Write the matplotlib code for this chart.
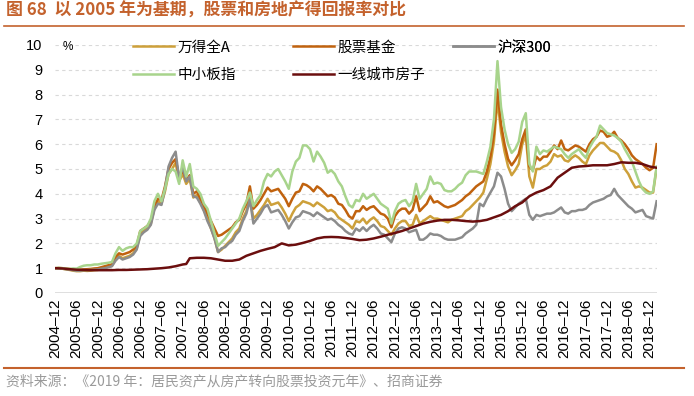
import matplotlib
matplotlib.use("Agg")
import matplotlib.pyplot as plt
import numpy as np
import pandas as pd

plt.rcParams['font.family'] = ['Noto Sans CJK SC', 'DejaVu Sans']

# monthly data 2004-12 .. 2019-02 (2005 base = 1)
months = pd.period_range('2004-12', '2019-02', freq='M').strftime('%Y-%m').tolist()

sme_index = [  # 中小板指
    1.00, 1.01, 1.00, 0.98, 0.97, 0.99, 0.98, 1.05, 1.10, 1.12, 1.12, 1.15, 1.15, 1.18, 1.20, 1.22, 1.25,
    1.60, 1.85, 1.70, 1.80, 1.85, 1.85, 2.00, 2.50,
    2.60, 2.70, 3.00, 3.70, 4.00, 3.70, 4.20, 4.80, 5.00, 4.90,
    4.40, 5.35, 4.70, 5.20, 4.30, 4.20, 4.00, 3.60, 3.40, 2.90, 2.40, 1.90,
    2.05, 2.20, 2.40, 2.60, 2.80, 3.00, 3.40, 3.70, 4.05, 3.50, 3.75, 3.95,
    4.50, 4.80, 4.70, 4.90, 5.00, 4.75, 4.50, 4.20, 4.90, 5.30, 5.45, 5.95,
    5.95, 5.80, 5.30, 5.70, 5.50, 5.25, 4.85, 4.95, 4.80, 4.50, 4.30, 3.90,
    3.55, 3.45, 3.75, 3.70, 4.00, 3.80, 3.90, 4.00, 3.80, 3.60, 3.50, 3.40,
    2.80, 3.30, 3.60, 3.70, 3.75, 3.50, 3.70, 4.40, 3.80, 4.00, 4.20, 4.70,
    4.40, 4.45, 4.40, 4.15, 4.10, 4.10, 4.20, 4.35, 4.45, 4.75, 4.90, 4.90,
    4.90, 4.85, 4.80, 5.30, 5.90, 7.00, 9.35, 7.50, 6.60, 6.00, 5.65, 5.80,
    6.10, 6.90, 7.25, 5.20, 4.90, 5.90, 5.60, 5.75, 5.70, 5.80, 5.90, 5.85,
    5.80, 5.60, 5.45, 5.60, 5.70, 5.80, 5.60, 5.45, 5.85, 6.10, 6.30, 6.75,
    6.60, 6.45, 6.40, 6.35, 6.25, 6.10, 5.80, 5.55, 5.30, 4.90, 4.50, 4.20,
    4.05, 4.00, 4.10, 5.10,
]

stock_fund = [  # 股票基金
    1.00, 1.01, 1.00, 0.98, 0.97, 0.95, 0.93, 0.94, 0.95, 0.96, 0.97, 0.99, 1.00, 1.04, 1.08, 1.12, 1.15,
    1.45, 1.60, 1.55, 1.60, 1.65, 1.75, 1.90, 2.50,
    2.60, 2.70, 2.90, 3.50, 3.80, 3.75, 4.30, 5.00, 5.25, 5.40,
    4.70, 4.95, 4.55, 4.75, 4.00, 4.10, 3.80, 3.50, 3.20, 2.90, 2.60, 2.30,
    2.35, 2.45, 2.55, 2.65, 2.85, 2.95, 3.30, 3.60, 4.30, 3.40, 3.55, 3.75,
    4.00, 4.25, 4.10, 4.15, 4.20, 4.00, 3.80, 3.50, 3.80, 4.05, 4.10, 4.40,
    4.35, 4.25, 4.10, 4.30, 4.20, 4.05, 3.90, 3.95, 3.85, 3.60, 3.55, 3.35,
    3.10, 3.00, 3.30, 3.30, 3.50, 3.35, 3.45, 3.50, 3.35, 3.20, 3.15, 3.00,
    2.65, 3.10, 3.30, 3.40, 3.40, 3.20, 3.35, 3.90, 3.30, 3.45, 3.60, 3.90,
    3.65, 3.70, 3.60, 3.50, 3.45, 3.50, 3.55, 3.65, 3.75, 3.90, 4.00, 4.15,
    4.30, 4.40, 4.50, 4.90, 5.50, 6.40, 8.20, 6.80, 6.00, 5.40, 5.15, 5.35,
    5.60, 6.20, 6.60, 5.10, 4.95, 5.50, 5.35, 5.50, 5.50, 5.70, 5.95, 5.80,
    6.15, 5.80, 5.75, 5.85, 5.95, 5.90, 5.80, 5.70, 6.00, 6.20, 6.30, 6.55,
    6.50, 6.30, 6.35, 6.50, 6.25, 6.15, 6.00, 5.80, 5.55, 5.40, 5.30, 5.20,
    5.05, 4.95, 5.05, 6.00,
]

wind_all_a = [  # 万得全A
    1.00, 1.00, 0.98, 0.95, 0.93, 0.90, 0.88, 0.88, 0.90, 0.89, 0.90, 0.92, 0.93, 0.97, 1.00, 1.05, 1.10,
    1.35, 1.50, 1.40, 1.45, 1.50, 1.60, 1.80, 2.35,
    2.50, 2.60, 2.80, 3.40, 3.70, 3.60, 4.10, 4.80, 5.00, 5.25,
    4.50, 4.80, 4.40, 4.60, 3.85, 3.95, 3.65, 3.35, 3.00, 2.60, 2.20, 1.65,
    1.75, 1.90, 2.05, 2.20, 2.45, 2.60, 3.00, 3.30, 3.85, 3.00, 3.15, 3.35,
    3.55, 3.80, 3.55, 3.60, 3.65, 3.45, 3.20, 2.90, 3.20, 3.45, 3.55, 3.70,
    3.65, 3.60, 3.50, 3.65, 3.55, 3.45, 3.30, 3.35, 3.25, 3.05, 2.95, 2.85,
    2.75, 2.60, 2.90, 2.85, 3.00, 2.80, 2.95, 3.05, 2.90, 2.70, 2.65, 2.50,
    2.35, 2.60, 2.80, 2.90, 2.90, 2.70, 2.75, 3.15, 2.80, 2.90, 3.00, 3.10,
    3.00, 3.00, 2.95, 2.90, 2.85, 2.95, 3.00, 3.05, 3.10, 3.30, 3.40, 3.55,
    3.70, 3.85, 4.05, 4.60, 5.20, 6.10, 7.80, 6.50, 5.70, 5.10, 4.75, 4.95,
    5.20, 6.00, 6.35, 4.70, 4.25, 5.00, 5.00, 5.10, 5.15, 5.30, 5.60, 5.50,
    5.55, 5.35, 5.30, 5.45, 5.55, 5.45, 5.30, 5.20, 5.55, 5.75, 5.90, 6.05,
    6.05, 5.90, 5.75, 5.70, 5.60, 5.35, 5.00, 4.80, 4.50, 4.25, 4.30, 4.25,
    4.15, 4.05, 4.05, 5.05,
]

csi300 = [  # 沪深300
    1.00, 1.00, 0.98, 0.96, 0.95, 0.92, 0.90, 0.90, 0.92, 0.92, 0.93, 0.94, 0.95, 0.98, 1.00, 1.04, 1.08,
    1.30, 1.45, 1.35, 1.40, 1.45, 1.55, 1.75, 2.30,
    2.45, 2.55, 2.75, 3.35, 3.60, 3.55, 4.20, 5.10, 5.45, 5.70,
    4.60, 5.10, 4.50, 4.70, 3.90, 3.85, 3.60, 3.30, 2.90, 2.60, 2.20, 1.65,
    1.80, 1.85, 2.00, 2.10, 2.35, 2.50, 2.90, 3.20, 3.75, 2.80, 3.00, 3.20,
    3.45, 3.55, 3.25, 3.30, 3.35, 3.15, 2.90, 2.60, 2.85, 3.05, 3.10, 3.30,
    3.25, 3.20, 3.10, 3.25, 3.15, 3.05, 2.95, 3.00, 2.90, 2.75, 2.65, 2.50,
    2.40, 2.35, 2.60, 2.50, 2.65, 2.50, 2.65, 2.75, 2.60, 2.40, 2.35, 2.20,
    2.05, 2.40, 2.60, 2.65, 2.60, 2.45, 2.50, 2.55, 2.15, 2.15, 2.25, 2.40,
    2.35, 2.35, 2.30, 2.20, 2.15, 2.15, 2.15, 2.20, 2.25, 2.40, 2.50, 2.60,
    2.75, 3.60, 3.50, 3.80, 4.05, 4.30, 4.85, 4.70, 4.20, 3.60, 3.30, 3.45,
    3.60, 3.70, 3.80, 3.15, 2.95, 3.15, 3.10, 3.15, 3.20, 3.20, 3.25, 3.35,
    3.45, 3.25, 3.20, 3.30, 3.30, 3.35, 3.35, 3.40, 3.55, 3.65, 3.70, 3.75,
    3.80, 3.90, 3.95, 4.20, 3.95, 3.80, 3.65, 3.50, 3.40, 3.25, 3.30, 3.35,
    3.10, 3.05, 3.00, 3.70,
]

# 一线城市房子 (read every two months)
house_months = [
    '2004-12', '2005-02', '2005-04', '2005-06', '2005-08', '2005-10', '2005-12', '2006-02',
    '2006-04', '2006-06', '2006-08', '2006-10', '2006-12', '2007-02', '2007-04', '2007-06',
    '2007-08', '2007-10', '2007-12', '2008-01', '2008-02', '2008-04', '2008-06', '2008-08',
    '2008-10', '2008-12', '2009-02', '2009-04', '2009-06', '2009-08', '2009-10', '2009-12',
    '2010-02', '2010-04', '2010-06', '2010-08', '2010-10', '2010-12', '2011-02', '2011-04',
    '2011-06', '2011-08', '2011-10', '2011-12', '2012-02', '2012-04', '2012-06', '2012-08',
    '2012-10', '2012-12', '2013-02', '2013-04', '2013-06', '2013-08', '2013-10', '2013-12',
    '2014-02', '2014-04', '2014-06', '2014-08', '2014-10', '2014-12', '2015-02', '2015-04',
    '2015-06', '2015-08', '2015-10', '2015-12', '2016-02', '2016-04', '2016-06', '2016-08',
    '2016-10', '2016-12', '2017-02', '2017-04', '2017-06', '2017-08', '2017-10', '2017-12',
    '2018-02', '2018-04', '2018-06', '2018-08', '2018-10', '2018-12', '2019-02',
]
house = [
    1.00, 0.99, 0.96, 0.94, 0.93, 0.92, 0.92, 0.92,
    0.92, 0.93, 0.93, 0.94, 0.95, 0.96, 0.98, 1.00,
    1.03, 1.08, 1.15, 1.17, 1.40, 1.42, 1.42, 1.40,
    1.35, 1.30, 1.30, 1.35, 1.50, 1.60, 1.70, 1.78,
    1.85, 2.00, 1.92, 1.95, 2.02, 2.10, 2.20, 2.25,
    2.26, 2.25, 2.22, 2.18, 2.13, 2.15, 2.20, 2.27,
    2.35, 2.42, 2.50, 2.60, 2.70, 2.80, 2.87, 2.92,
    2.95, 2.95, 2.93, 2.90, 2.88, 2.90, 2.95, 3.05,
    3.15, 3.30, 3.50, 3.65, 3.90, 4.05, 4.15, 4.30,
    4.65, 4.85, 5.05, 5.10, 5.12, 5.15, 5.15, 5.15,
    5.20, 5.27, 5.25, 5.25, 5.20, 5.10, 5.05,
]

series_names = ['万得全A', '股票基金', '沪深300', '中小板指', '一线城市房子']
series_colors = ['#CDA03A', '#C0620E', '#8C8C8C', '#A8D48C', '#6B0E0E']

TITLE_COLOR = '#C4622D'

fig = plt.figure(figsize=(6.94, 3.96), dpi=100)
ax = fig.add_axes([55 / 694, 1 - 293 / 396, 602 / 694, 248 / 396])

x_all = np.arange(len(months))
pos = {m: i for i, m in enumerate(months)}
x_house = [pos[m] for m in house_months]

lines = {}
for name, vals, col in zip(series_names[:4], [wind_all_a, stock_fund, csi300, sme_index], series_colors[:4]):
    lines[name], = ax.plot(x_all, vals, color=col, lw=1.8, solid_joinstyle='round')
lines['一线城市房子'], = ax.plot(x_house, house, color=series_colors[4], lw=1.8,
                              solid_joinstyle='round')

ax.set_xlim(-0.1, 170.1)
ax.set_ylim(0, 10)
ax.set_yticks(range(0, 11))
ax.set_yticklabels([str(v) for v in range(0, 11)], family='Liberation Sans', fontsize=10.5)
for v in range(1, 11):
    ax.axhline(v, color='#D9D9D9', lw=0.8, dashes=(3, 3), zorder=0)
ax.axhline(0, color='#D9D9D9', lw=1.2, zorder=0)

tick_idx = list(range(0, 169, 6))
ax.set_xticks(tick_idx)
ax.set_xticklabels([months[i].replace('-', '\u2013') for i in tick_idx], rotation=90,
                   family='Liberation Sans', fontsize=11)
ax.tick_params(axis='both', length=0)
ax.tick_params(axis='y', pad=9)
ax.tick_params(axis='x', pad=4)
for s in ax.spines.values():
    s.set_visible(False)

ax.text(0.012, 0.99, '%', transform=ax.transAxes, fontsize=8.5, va='center', ha='left',
        family='Liberation Sans')

# legend, three fixed-width columns
cols = [['万得全A', '中小板指'], ['股票基金', '一线城市房子'], ['沪深300']]
col_x = [78 / 602, 238 / 602, 398 / 602]
for names, cx in zip(cols, col_x):
    leg = ax.legend([lines[n] for n in names], names, loc='upper left',
                    bbox_to_anchor=(cx, 1.018), frameon=False, fontsize=10.5,
                    handlelength=2.8, handletextpad=0.25, labelspacing=0.9,
                    borderaxespad=0, borderpad=0)
    ax.add_artist(leg)

# title & source
fig.text(0.008, 0.972, '图 68  以 2005 年为基期，股票和房地产得回报率对比', fontsize=12.2,
         fontweight='bold', color=TITLE_COLOR, va='center', ha='left')
fig.add_artist(plt.Line2D([0.006, 0.985], [1 - 26 / 396] * 2, color=TITLE_COLOR, lw=1.2))
fig.add_artist(plt.Line2D([0.006, 0.985], [1 - 368 / 396] * 2, color=TITLE_COLOR, lw=1.5))
fig.text(0.008, 1 - 381 / 396, '资料来源：《2019 年：居民资产从房产转向股票投资元年》、招商证券',
         fontsize=10, color='#9A9A9A', va='center', ha='left')

fig.savefig('out.png', dpi=100)
